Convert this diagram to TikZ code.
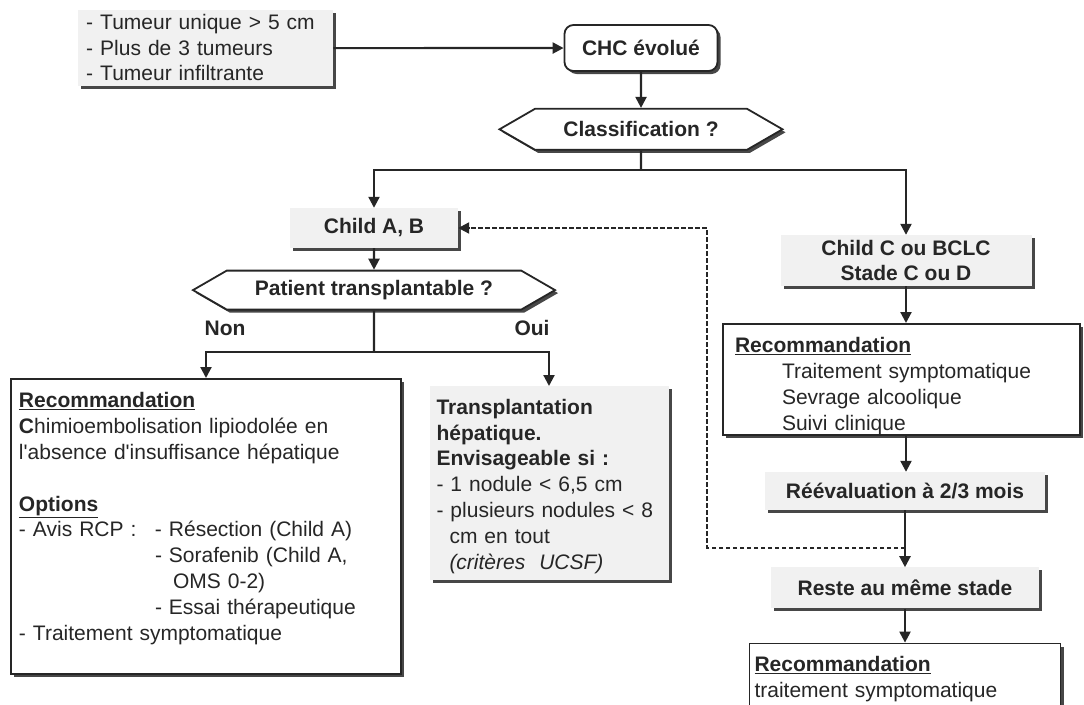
\documentclass[tikz,border=0pt]{standalone}
\usepackage{fontspec}
\setmainfont{Liberation Sans}
\usepackage{xcolor}
\usepackage{tikz}
\usetikzlibrary{positioning,calc,arrows.meta,shapes.symbols,shadows}

\definecolor{ink}{HTML}{262626}
\definecolor{pale}{HTML}{F1F1F1}

\tikzset{
  txt/.style={font=\fontsize{21}{25.8}\selectfont, text=ink},
  hd/.style={txt, font=\fontsize{21}{25.8}\selectfont\bfseries},
  dropsh/.style={drop shadow={shadow xshift=3pt, shadow yshift=-3pt, fill=black!72, opacity=1}},
  graybox/.style={txt, fill=pale, dropsh, inner sep=0pt},
  whitebox/.style={txt, draw=ink, line width=1.8pt, fill=white, dropsh, align=left},
  ask/.style={hd, signal, signal to=west and east, signal pointer angle=60,
    draw=ink, line width=1.8pt, fill=white, dropsh, inner sep=0pt},
  link/.style={draw=ink, line width=2.2pt},
  arr/.style={link, -{Triangle[length=11pt,width=11pt]}},
  back/.style={arr, dash pattern=on 4.5pt off 2.5pt},
}

\begin{document}
\begin{tikzpicture}[x=1pt, y=-1pt]
  \useasboundingbox (0,0) rectangle (1084,704);

  \node[graybox, align=left, anchor=north west, text width=239pt, inner xsep=8pt,
    inner ysep=4pt, text height=15pt, text depth=53pt] (t) at (78,10)
    {- Tumeur unique > 5 cm\\- Plus de 3 tumeurs\\- Tumeur infiltrante};
  \node[whitebox, hd, rounded corners=9pt, minimum width=153pt, minimum height=46pt]
    (c) at (641,48) {CHC évolué};
  \node[ask, minimum width=283pt, minimum height=41pt, below=36pt of c] (q) {Classification ?};
  \coordinate (s1) at (641,170);

  \node[graybox, hd, minimum width=168pt, minimum height=40pt] (a) at (374,228) {Child A, B};
  \node[graybox, hd, align=center, minimum width=251pt, minimum height=51pt]
    (b) at (906,260.5) {Child C ou BCLC\\Stade C ou D};

  \node[ask, minimum width=362pt, minimum height=39pt, below=21.5pt of a] (p) {Patient transplantable ?};
  \node[hd] (n) at (225,328) {Non};
  \node[hd] (o) at (532,328) {Oui};
  \coordinate (s2) at (374,352);

  \node[whitebox, anchor=north, text width=374pt, inner xsep=8pt, inner ysep=8pt,
    text height=21pt, text depth=258pt] (l) at (206,378)
    {\textbf{\underline{Recommandation}}\\
     \textbf{C}himioembolisation lipiodolée en\\
     l\textquotesingle absence d\textquotesingle insuffisance hépatique\\[25.8pt]
     \textbf{\underline{Options}}\\
     \makebox[136pt][l]{- Avis RCP :}- Résection (Child A)\\
     \hspace*{136pt}- Sorafenib (Child A,\\
     \hspace*{154pt}OMS 0-2)\\
     \hspace*{136pt}- Essai thérapeutique\\
     - Traitement symptomatique};
  \node[graybox, align=left, anchor=north, text width=225pt, inner xsep=7pt, inner ysep=5pt,
    text height=23pt, text depth=161pt] (r) at (549,386)
    {\textbf{Transplantation}\\
     \textbf{hépatique.}\\
     \textbf{Envisageable si :}\\
     - 1 nodule < 6,5 cm\\
     - plusieurs nodules < 8\\
     \hspace*{13pt}cm en tout\\
     \hspace*{13pt}\textit{(critères\ \ UCSF)}};

  \node[whitebox, anchor=north, text width=333pt, inner xsep=12pt, inner ysep=4pt,
    text height=25pt, text depth=78pt] (m) at (901.5,323)
    {\textbf{\underline{Recommandation}}\\
     \hspace*{47pt}Traitement symptomatique\\
     \hspace*{47pt}Sevrage alcoolique\\
     \hspace*{47pt}Suivi clinique};
  \node[graybox, hd, minimum width=280pt, minimum height=38pt] (e) at (905,491) {Réévaluation à 2/3 mois};
  \node[graybox, hd, minimum width=268pt, minimum height=41pt, below=57pt of e] (f) {Reste au même stade};
  \node[whitebox, text width=301pt, inner xsep=5pt, inner ysep=4pt,
    text height=24pt, text depth=38pt, below=34pt of f] (g)
    {\textbf{\underline{Recommandation}}\\
     traitement symptomatique};

  \draw[arr] (t) -- (c);
  \draw[arr] (c) -- (q);
  \draw[link] (q) -- (s1);
  \draw[arr] (s1) -| (a);
  \draw[arr] (s1) -| (b);
  \draw[arr] (a) -- (p);
  \draw[link] (p) -- (s2);
  \draw[arr] (s2) -| (l);
  \draw[arr] (s2) -| (r);
  \draw[arr] (b) -- (b |- m.north);
  \draw[arr] (b |- m.south) -- (b |- e.north);
  \draw[arr] (e) -- (f);
  \draw[arr] (f) -- (g);

  \coordinate (d) at ($(e.south)!0.66!(f.north)$);
  \draw[back] (d) -- ++(-198,0) |- (a);
\end{tikzpicture}
\end{document}
